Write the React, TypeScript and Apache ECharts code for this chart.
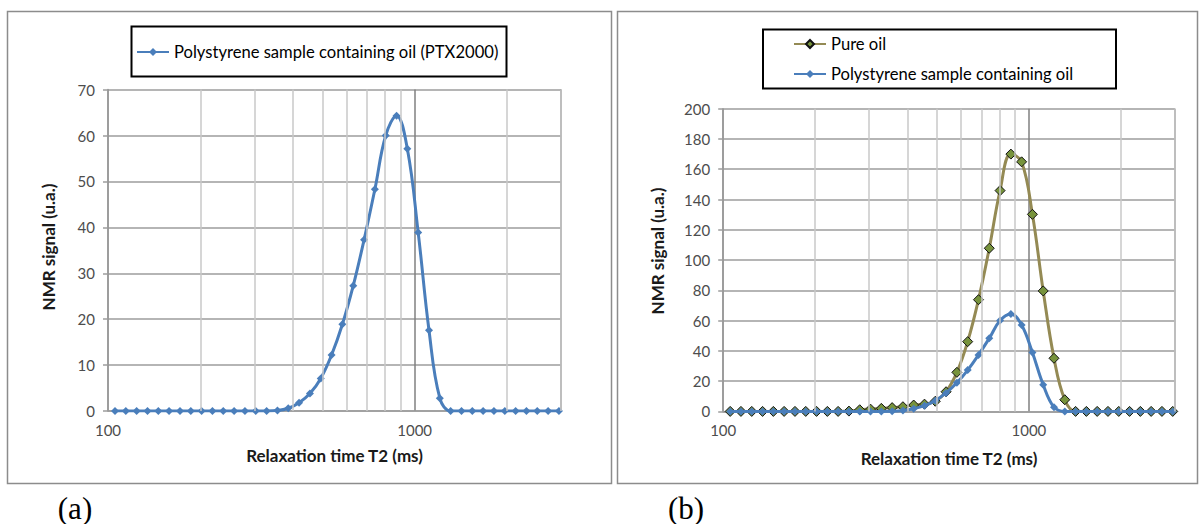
import React, { useEffect, useRef } from "react";
import * as echarts from "echarts";

// Relaxation time bins (ms), log-spaced
const t2 = [
  105.4, 114.3, 124.0, 134.5, 145.9, 158.2, 171.7, 186.2, 202.0, 219.1, 237.6,
  257.8, 279.6, 303.3, 329.0, 356.9, 387.1, 419.8, 455.4, 494.0, 535.8, 581.2,
  630.5, 683.9, 741.8, 804.6, 872.8, 946.4, 1026.6, 1113.5, 1207.8, 1310.1,
  1421.1, 1541.4, 1671.9, 1813.6, 1967.2, 2133.8, 2314.5, 2510.5, 2723.1, 2953.7,
];
const polystyrene = [
  0, 0, 0, 0, 0, 0, 0, 0, 0, 0, 0, 0, 0, 0, 0, 0.1, 0.6, 1.8, 3.8, 7.1, 12.2,
  18.9, 27.3, 37.3, 48.3, 60.0, 64.3, 57.1, 38.9, 17.6, 2.8, 0, 0, 0, 0, 0, 0,
  0, 0, 0, 0, 0,
];
const pureOil = [
  0, 0, 0, 0, 0, 0, 0, 0, 0, 0, 0, 0.2, 1.1, 1.5, 2.0, 2.5, 3.1, 4.2, 4.8, 6.7,
  13.0, 25.8, 46.1, 73.8, 107.8, 145.9, 170.0, 164.9, 130.2, 79.6, 35.1, 7.7, 0,
  0, 0, 0, 0, 0, 0, 0, 0, 0,
];
const minorGrid = [200, 300, 400, 500, 600, 700, 800, 900, 2000, 3000];
const xLabels = [100, 1000];

const nameA = "Polystyrene sample containing oil (PTX2000)";
const nameOil = "Pure oil";
const nameB = "Polystyrene sample containing oil";
const xTitle = "Relaxation time T2 (ms)";
const yTitle = "NMR signal (u.a.)";

const BLUE = "#4a7ebb";
const OLIVE = "#948a54";
const GREEN = "#77933c";
const GRID_MID = "#9c9c9c";
const GRID_MAJOR = "#808080";
const GRID_LIGHT = "#c8c8c8";
const FONT = "Lato";

const pairs = (ys: number[]) => t2.map((x, i) => [x, ys[i]]);

export default function App() {
  const ref = useRef<HTMLDivElement>(null);
  useEffect(() => {
    if (!ref.current) return;
    const chart = echarts.init(ref.current, undefined, { renderer: "svg" });

    const mkX = (gi: number, gap: number) => ({
      type: "log",
      logBase: 10,
      gridIndex: gi,
      min: 100,
      max: 3000,
      name: xTitle,
      nameLocation: "middle",
      nameGap: gap,
      nameTextStyle: { fontFamily: FONT, fontSize: 17, fontWeight: "bold", color: "#1a1a1a" },
      axisLine: { show: true, lineStyle: { color: GRID_MID, width: 1.5 } },
      axisTick: { show: false },
      axisLabel: {
        fontFamily: FONT,
        fontSize: 15,
        color: "#4d4d4d",
        margin: 11,
        showMaxLabel: false,
        formatter: (v: number) => {
          const r = Math.round(v);
          return xLabels.includes(r) ? String(r) : "";
        },
      },
      splitLine: { show: true, lineStyle: { color: GRID_MAJOR, width: 1.5 } },
    });
    const mkY = (gi: number, max: number, interval: number) => ({
      type: "value",
      gridIndex: gi,
      min: 0,
      max,
      interval,
      axisLine: { show: true, lineStyle: { color: GRID_MID, width: 1.5 } },
      axisTick: { show: true, length: 5, inside: false, lineStyle: { color: GRID_MID, width: 1.5 } },
      axisLabel: { fontFamily: FONT, fontSize: 15, color: "#4d4d4d", margin: 13 },
      splitLine: { show: true, lineStyle: { color: GRID_MID, width: 1.5 } },
    });
    const minorSeries = (gi: number) => ({
      type: "line",
      name: "minor" + gi,
      xAxisIndex: gi,
      yAxisIndex: gi,
      data: [],
      z: 1,
      silent: true,
      markLine: {
        silent: true,
        symbol: "none",
        label: { show: false },
        lineStyle: { color: GRID_LIGHT, width: 1.5, type: "solid" },
        data: minorGrid.map((v) => ({ xAxis: v })),
      },
    });

    const option: any = {
      animation: false,
      backgroundColor: "#ffffff",
      textStyle: { fontFamily: FONT },
      grid: [
        { left: 108, top: 89.6, width: 453, height: 321.4 },
        { left: 723.2, top: 108.7, width: 451.6, height: 302.7 },
      ],
      xAxis: [mkX(0, 36), mkX(1, 39)],
      yAxis: [mkY(0, 70, 10), mkY(1, 200, 20)],
      legend: [
        {
          left: 136,
          top: 42,
          data: [nameA],
          itemWidth: 32,
          itemHeight: 10,
          itemGap: 10,
          padding: 0,
          textStyle: { fontFamily: FONT, fontSize: 16.6, color: "#000", lineHeight: 20 },
        },
        {
          left: 793,
          top: 34,
          orient: "vertical",
          data: [nameOil, nameB],
          itemWidth: 32,
          itemHeight: 10,
          itemGap: 10,
          padding: 0,
          textStyle: { fontFamily: FONT, fontSize: 16.6, color: "#000", lineHeight: 20 },
        },
      ],
      series: [
        minorSeries(0),
        minorSeries(1),
        {
          type: "line",
          name: nameA,
          xAxisIndex: 0,
          yAxisIndex: 0,
          data: pairs(polystyrene),
          smooth: 0.4,
          symbol: "diamond",
          symbolSize: 8,
          itemStyle: { color: BLUE },
          lineStyle: { color: BLUE, width: 3 },
          z: 3,
        },
        {
          type: "line",
          name: nameOil,
          xAxisIndex: 1,
          yAxisIndex: 1,
          data: pairs(pureOil),
          smooth: 0.4,
          symbol: "diamond",
          symbolSize: 10,
          itemStyle: { color: GREEN, borderColor: "#111", borderWidth: 1 },
          lineStyle: { color: OLIVE, width: 3 },
          z: 3,
        },
        {
          type: "line",
          name: nameB,
          xAxisIndex: 1,
          yAxisIndex: 1,
          data: pairs(polystyrene),
          smooth: 0.4,
          symbol: "diamond",
          symbolSize: 8,
          itemStyle: { color: BLUE },
          lineStyle: { color: BLUE, width: 3 },
          z: 4,
        },
      ],
      graphic: [
        {
          type: "rect",
          shape: { x: 7.5, y: 11.5, width: 604, height: 472 },
          style: { fill: "none", stroke: "#8c8c8c", lineWidth: 1.5 },
          silent: true,
          z: -10,
        },
        {
          type: "rect",
          shape: { x: 617.5, y: 11.5, width: 580, height: 472 },
          style: { fill: "none", stroke: "#8c8c8c", lineWidth: 1.5 },
          silent: true,
          z: -10,
        },
        {
          type: "rect",
          shape: { x: 131.5, y: 26.5, width: 375, height: 50 },
          style: { fill: "none", stroke: "#000", lineWidth: 2 },
          silent: true,
        },
        {
          type: "rect",
          shape: { x: 763, y: 29.5, width: 353, height: 59 },
          style: { fill: "none", stroke: "#000", lineWidth: 2 },
          silent: true,
        },
        {
          type: "text",
          x: 48,
          y: 247,
          rotation: Math.PI / 2,
          style: {
            text: yTitle,
            fontFamily: FONT,
            fontSize: 17,
            fontWeight: "bold",
            fill: "#1a1a1a",
            align: "center",
            verticalAlign: "middle",
          },
        },
        {
          type: "text",
          x: 657,
          y: 251,
          rotation: Math.PI / 2,
          style: {
            text: yTitle,
            fontFamily: FONT,
            fontSize: 17,
            fontWeight: "bold",
            fill: "#1a1a1a",
            align: "center",
            verticalAlign: "middle",
          },
        },
        {
          type: "text",
          x: 75,
          y: 508,
          style: {
            text: "(a)",
            fontFamily: "Liberation Serif",
            fontSize: 31,
            fill: "#000",
            align: "center",
            verticalAlign: "middle",
          },
        },
        {
          type: "text",
          x: 686,
          y: 508,
          style: {
            text: "(b)",
            fontFamily: "Liberation Serif",
            fontSize: 31,
            fill: "#000",
            align: "center",
            verticalAlign: "middle",
          },
        },
      ],
    };
    chart.setOption(option);
    return () => chart.dispose();
  }, []);

  return (
    <div
      ref={ref}
      style={{ position: "fixed", left: 0, top: 0, width: 1200, height: 524, background: "#fff" }}
    />
  );
}
